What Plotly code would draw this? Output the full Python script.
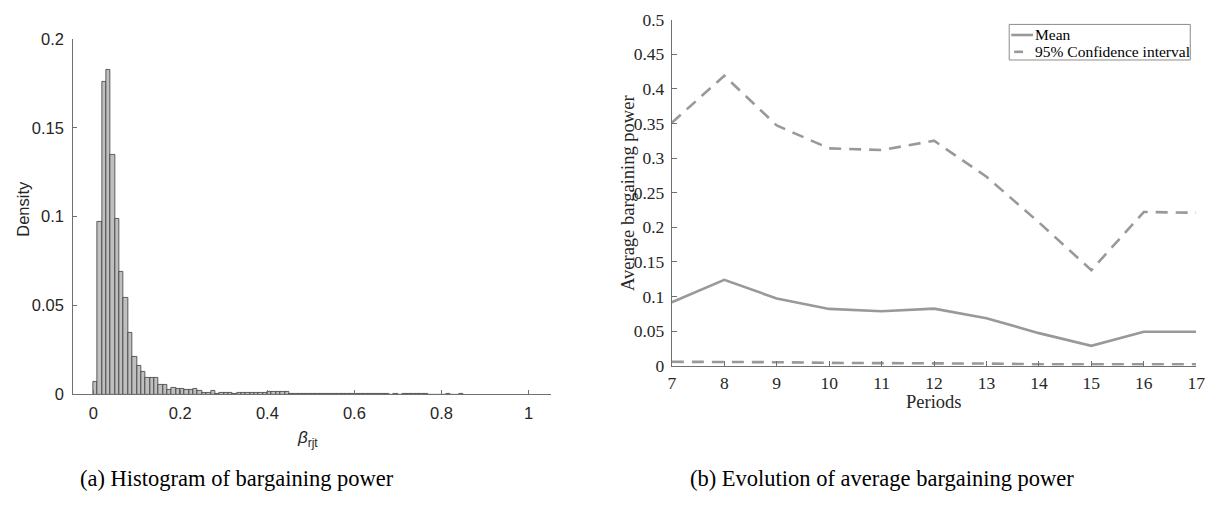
import plotly.graph_objects as go

# ---------------- data ----------------
# Histogram of bargaining power (bin width 0.01, starting at 0)
bin_width = 0.01
density = [
    0.0072, 0.0973, 0.1760, 0.1825, 0.1346, 0.0987, 0.0690, 0.0544, 0.0348, 0.0209,
    0.0163, 0.0130, 0.0095, 0.0093, 0.0093, 0.0052, 0.0052, 0.0028, 0.0036, 0.0030,
    0.0030, 0.0025, 0.0025, 0.0030, 0.0023, 0.0012, 0.0012, 0.0023, 0.0006, 0.0012,
    0.0012, 0.0011, 0.0006, 0.0011, 0.0008, 0.0011, 0.0012, 0.0011, 0.0009, 0.0012,
    0.0015, 0.0016, 0.0016, 0.0016, 0.0017, 0.0006, 0.0006, 0.0005, 0.0006, 0.0005,
    0.0004, 0.0004, 0.0005, 0.0003, 0.0004, 0.0002, 0.0003, 0.0003, 0.0004, 0.0003,
    0.0004, 0.0004, 0.0003, 0.0002, 0.0003, 0.0004, 0.0004, 0.0002, 0.0000, 0.0002,
    0.0000, 0.0003, 0.0003, 0.0003, 0.0004, 0.0003, 0.0002, 0.0000, 0.0000, 0.0000,
    0.0000, 0.0003, 0.0000, 0.0000, 0.0003,
]
bin_centers = [bin_width * (i + 0.5) for i in range(len(density))]

# Evolution of average bargaining power
periods = [7, 8, 9, 10, 11, 12, 13, 14, 15, 16, 17]
mean_bp = [0.0917, 0.124, 0.097, 0.082, 0.0787, 0.0824, 0.0685, 0.047, 0.0287, 0.049, 0.049]
ci_upper = [0.351, 0.419, 0.347, 0.314, 0.3115, 0.325, 0.273, 0.207, 0.138, 0.222, 0.221]
ci_lower = [0.0056, 0.0056, 0.005, 0.004, 0.004, 0.004, 0.003, 0.002, 0.002, 0.002, 0.002]

left_xticks = [0, 0.2, 0.4, 0.6, 0.8, 1]
left_xtext = ["0", "0.2", "0.4", "0.6", "0.8", "1"]
left_yticks = [0, 0.05, 0.1, 0.15, 0.2]
left_ytext = ["0", "0.05", "0.1", "0.15", "0.2"]
right_yticks = [0, 0.05, 0.1, 0.15, 0.2, 0.25, 0.3, 0.35, 0.4, 0.45, 0.5]
right_ytext = ["0", "0.05", "0.1", "0.15", "0.2", "0.25", "0.3", "0.35", "0.4", "0.45", "0.5"]
legend_labels = ["Mean", "95% Confidence interval"]

# ---------------- layout helpers ----------------
W, H = 1225, 516
def px(x):
    return x / W
def py(y):
    return (H - y) / H

SANS = "Liberation Sans, Arial, sans-serif"
SERIF = "Liberation Serif, Times New Roman, serif"
AXIS_COL = "#707070"
TXT = "#262626"
LINE_COL = "#999999"
DASH = "12px,8px"

fig = go.Figure()

fig.add_trace(go.Bar(
    x=bin_centers, y=density, width=bin_width,
    marker=dict(color="#bfbfbf", line=dict(color="#3c3c3c", width=0.8)),
    xaxis="x", yaxis="y", showlegend=False,
))

fig.add_trace(go.Scatter(
    x=periods, y=mean_bp, mode="lines", name=legend_labels[0],
    line=dict(color=LINE_COL, width=2.6),
    xaxis="x2", yaxis="y2", showlegend=False,
))
fig.add_trace(go.Scatter(
    x=periods, y=ci_upper, mode="lines", name=legend_labels[1],
    line=dict(color=LINE_COL, width=2.6, dash=DASH),
    xaxis="x2", yaxis="y2", showlegend=False,
))
fig.add_trace(go.Scatter(
    x=periods, y=ci_lower, mode="lines", name=legend_labels[1],
    line=dict(color=LINE_COL, width=2.6, dash=DASH),
    xaxis="x2", yaxis="y2", showlegend=False,
))

common_axis = dict(showline=True, linecolor=AXIS_COL, linewidth=1, showgrid=False,
                   zeroline=False, ticks="inside", tickcolor=AXIS_COL, mirror=False)

fig.update_layout(
    width=W, height=H,
    margin=dict(l=0, r=0, t=0, b=0),
    paper_bgcolor="white", plot_bgcolor="white",
    bargap=0,
    showlegend=False,
    xaxis=dict(domain=[px(70), px(553)], range=[-0.046, 1.052], anchor="y",
               tickvals=left_xticks, ticktext=left_xtext, ticklabelstandoff=4,
               ticklen=4, tickfont=dict(family=SANS, size=16.5, color=TXT), **common_axis),
    yaxis=dict(domain=[py(400), py(30)], range=[0, 0.2], anchor="x",
               tickvals=left_yticks, ticktext=left_ytext, ticklabelstandoff=5,
               ticklen=4, tickfont=dict(family=SANS, size=16.5, color=TXT), **common_axis),
    xaxis2=dict(domain=[px(675), px(1205)], range=[7, 17], anchor="y2",
                tickvals=periods, ticklen=5, ticklabelstandoff=1,
                tickfont=dict(family=SERIF, size=17.5, color=TXT), **common_axis),
    yaxis2=dict(domain=[py(370), py(10)], range=[0, 0.5], anchor="x2",
                tickvals=right_yticks, ticktext=right_ytext, ticklen=5, ticklabelstandoff=3,
                tickfont=dict(family=SERIF, size=17.5, color=TXT), **common_axis),
)

# manual legend (box + samples) in paper coordinates
shapes = [
    dict(type="rect", xref="paper", yref="paper", x0=px(1016), x1=px(1199), y0=py(52), y1=py(15),
         line=dict(color="#8c8c8c", width=1), fillcolor="white", layer="above"),
    dict(type="line", xref="paper", yref="paper", x0=px(1018), x1=px(1040), y0=py(26), y1=py(26),
         line=dict(color=LINE_COL, width=2.6), layer="above"),
    dict(type="line", xref="paper", yref="paper", x0=px(1021), x1=px(1030), y0=py(43.5), y1=py(43.5),
         line=dict(color=LINE_COL, width=2.6), layer="above"),
]
fig.update_layout(shapes=shapes)

annotations = [
    dict(text="Density", x=px(19), y=py(207), textangle=-90, xanchor="center",
         font=dict(family=SANS, size=16.5, color=TXT)),
    dict(text="<i>β</i><sub>rjt</sub>", x=px(307), y=py(446), xanchor="center",
         font=dict(family=SANS, size=17, color=TXT)),
    dict(text="Average bargaining power", x=px(630), y=py(190), textangle=-90, xanchor="center",
         font=dict(family=SERIF, size=18.5, color=TXT)),
    dict(text="Periods", x=px(940), y=py(408), xanchor="center",
         font=dict(family=SERIF, size=18.5, color=TXT)),
    dict(text="(a) Histogram of bargaining power", x=px(235), y=py(487), xanchor="center",
         font=dict(family=SERIF, size=22.5, color="#000000")),
    dict(text="(b) Evolution of average bargaining power", x=px(887), y=py(487), xanchor="center",
         font=dict(family=SERIF, size=22.5, color="#000000")),
    dict(text=legend_labels[0], x=px(1040), y=py(25), xanchor="left",
         font=dict(family=SERIF, size=15.5, color="#000000")),
    dict(text=legend_labels[1], x=px(1040), y=py(43), xanchor="left",
         font=dict(family=SERIF, size=15.5, color="#000000")),
]
for a in annotations:
    a.update(xref="paper", yref="paper", showarrow=False, yanchor="middle")
fig.update_layout(annotations=annotations)

fig.write_html("out.html")
